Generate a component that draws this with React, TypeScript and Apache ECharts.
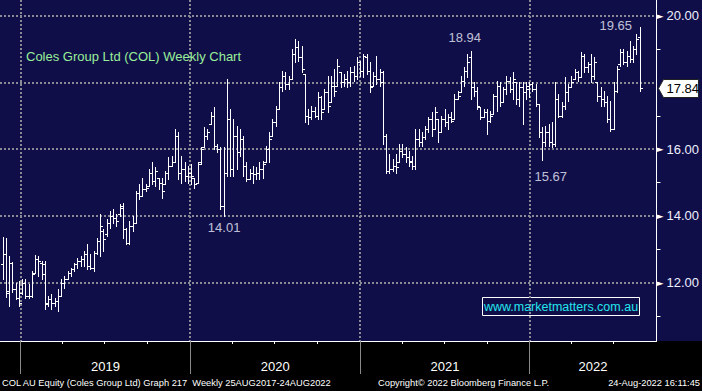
import React, { useEffect, useRef } from 'react';
import * as echarts from 'echarts';

const DAY = 86400000;
const firstWeekEnding = Date.UTC(2018, 10, 23);
const axisStart = Date.UTC(2018, 10, 17, 12);
const axisEnd = Date.UTC(2022, 9, 1);
const tickYears = [2019, 2020, 2021, 2022];
const priceLabelValues = [12, 14, 16, 20];
const priceGridValues = [12, 14, 16, 18, 20];
const priceMinorValues = [11, 13, 15, 17, 19];
const priceMin = 10.25;
const priceMax = 20.47;

const titleText = 'Coles Group Ltd (COL) Weekly Chart';
const watermarkText = 'www.marketmatters.com.au';
const footerLeft = 'COL AU Equity (Coles Group Ltd) Graph 217  Weekly 25AUG2017-24AUG2022';
const footerMid = 'Copyright\u00A9 2022 Bloomberg Finance L.P.';
const footerRight = '24-Aug-2022 16:11:45';

const opens = [
  12.55, 12.85, 11.70, 12.60, 11.80, 11.55, 11.70, 12.00, 11.60, 11.60,
  12.30, 12.70, 12.60, 12.55, 11.35, 11.50, 11.40, 11.45, 11.60, 12.00,
  12.10, 12.30, 12.40, 12.55, 12.65, 12.70, 12.85, 12.50, 12.45, 12.90,
  13.25, 13.55, 13.45, 13.80, 14.00, 13.95, 14.05, 14.30, 13.60, 13.20,
  13.70, 13.80, 14.70, 14.60, 14.80, 14.90, 15.30, 15.05, 15.15, 15.00,
  14.95, 15.30, 15.50, 15.60, 16.40, 15.30, 15.40, 15.20, 15.30, 15.15,
  15.00, 15.60, 16.05, 16.40, 16.75, 17.00, 16.10, 16.00, 14.30, 15.30,
  16.90, 15.40, 16.40, 15.90, 16.30, 15.50, 15.10, 15.30, 15.25, 15.30,
  15.40, 15.60, 16.00, 16.40, 16.80, 17.20, 17.85, 18.20, 17.95, 18.10,
  18.85, 19.05, 18.75, 18.25, 17.00, 16.95, 17.15, 17.00, 17.55, 17.20,
  17.70, 17.40, 17.90, 17.90, 18.30, 18.00, 18.10, 18.00, 18.30, 18.20,
  18.60, 18.35, 18.75, 18.35, 17.90, 18.20, 18.10, 18.00, 16.40, 15.35,
  15.40, 15.50, 15.60, 15.95, 15.85, 15.75, 15.60, 15.50, 16.30, 16.20,
  16.35, 16.60, 16.90, 16.60, 16.90, 16.50, 16.90, 16.80, 16.95, 16.90,
  17.50, 17.70, 18.05, 18.35, 18.75, 17.85, 17.75, 17.25, 16.95, 17.10,
  16.85, 17.05, 17.60, 17.90, 17.40, 17.80, 18.05, 17.80, 18.00, 17.50,
  17.85, 17.70, 17.80, 17.95, 17.80, 17.35, 16.50, 16.20, 16.50, 16.20,
  16.15, 17.50, 17.00, 17.30, 17.70, 17.85, 18.10, 18.30, 18.15, 18.80,
  18.45, 18.55, 18.20, 18.00, 17.60, 17.50, 17.40, 16.90, 16.60, 17.75,
  18.55, 18.90, 18.60, 18.80, 18.70, 19.00, 19.35,
];
const highs = [
  13.37, 13.34, 12.80, 12.62, 12.00, 12.05, 12.10, 12.10, 11.95, 12.35,
  12.83, 12.80, 12.65, 12.65, 11.60, 11.65, 11.55, 11.80, 12.10, 12.20,
  12.35, 12.45, 12.60, 12.75, 12.80, 12.95, 13.15, 12.85, 12.95, 13.35,
  14.05, 13.60, 13.90, 14.15, 14.20, 14.05, 14.35, 14.40, 13.65, 13.85,
  14.00, 14.75, 14.95, 15.15, 14.95, 15.40, 15.60, 15.45, 15.15, 15.15,
  15.35, 15.75, 15.80, 16.60, 16.50, 15.80, 15.60, 15.50, 15.55, 15.15,
  15.60, 16.05, 16.65, 16.60, 17.10, 17.25, 16.15, 16.05, 16.05, 18.10,
  17.20, 16.90, 16.70, 16.60, 16.40, 15.60, 15.40, 15.50, 15.45, 15.60,
  15.65, 16.10, 16.50, 16.90, 17.30, 18.00, 18.35, 18.30, 18.20, 19.00,
  19.30, 19.25, 19.10, 18.25, 17.20, 17.30, 17.25, 17.70, 17.60, 17.80,
  18.20, 18.20, 18.40, 18.70, 18.30, 18.25, 18.35, 18.45, 18.50, 18.75,
  18.65, 18.85, 18.85, 18.60, 18.30, 18.80, 18.40, 18.35, 16.45, 15.85,
  15.70, 15.85, 16.15, 16.15, 16.05, 15.95, 15.80, 16.60, 16.60, 16.50,
  16.70, 16.95, 17.10, 17.25, 16.90, 17.00, 17.20, 17.05, 17.10, 17.65,
  17.75, 18.20, 18.45, 18.85, 18.94, 18.00, 17.85, 17.25, 17.20, 17.20,
  17.15, 17.65, 18.05, 18.00, 17.85, 18.20, 18.15, 18.30, 18.00, 18.00,
  18.00, 18.00, 18.00, 18.00, 17.95, 17.35, 16.65, 16.70, 16.75, 16.80,
  18.00, 17.65, 17.40, 18.15, 17.95, 18.20, 18.40, 18.35, 18.90, 18.85,
  18.60, 18.85, 18.75, 18.00, 17.85, 17.75, 17.60, 17.45, 18.00, 18.50,
  19.00, 19.00, 18.95, 19.25, 19.10, 19.45, 19.65,
];
const lows = [
  12.10, 11.57, 11.30, 11.72, 11.50, 11.30, 11.65, 11.55, 11.55, 11.57,
  12.30, 12.20, 12.10, 11.20, 11.30, 11.20, 11.30, 11.15, 11.60, 11.85,
  12.10, 12.20, 12.35, 12.45, 12.50, 12.50, 12.40, 12.40, 12.35, 12.85,
  12.80, 12.95, 13.40, 13.65, 13.80, 13.70, 14.00, 13.35, 13.15, 13.15,
  13.55, 13.80, 14.50, 14.60, 14.75, 14.90, 14.95, 14.90, 14.80, 14.55,
  14.95, 15.10, 15.50, 15.60, 15.10, 15.00, 15.05, 15.00, 14.95, 14.85,
  15.00, 15.55, 16.05, 16.30, 16.75, 16.00, 15.90, 14.20, 14.01, 15.20,
  15.20, 15.20, 15.40, 15.80, 15.20, 15.05, 15.10, 15.00, 15.10, 15.10,
  15.15, 15.60, 15.60, 16.40, 16.70, 17.20, 17.75, 17.80, 17.80, 18.10,
  18.60, 18.65, 18.30, 16.80, 16.75, 16.90, 16.95, 16.90, 16.90, 17.20,
  17.10, 17.40, 17.60, 17.90, 17.85, 17.90, 17.85, 17.90, 18.05, 18.10,
  18.20, 18.15, 18.25, 17.70, 17.90, 17.95, 17.90, 16.15, 15.30, 15.30,
  15.35, 15.30, 15.60, 15.75, 15.60, 15.50, 15.40, 15.40, 16.10, 16.10,
  16.30, 16.50, 16.40, 16.60, 16.20, 16.50, 16.70, 16.60, 16.80, 16.90,
  17.50, 17.70, 17.90, 18.15, 17.50, 17.60, 17.20, 16.90, 16.95, 16.45,
  16.80, 17.05, 17.15, 17.30, 17.40, 17.65, 17.70, 17.50, 17.35, 17.30,
  16.75, 17.50, 17.55, 17.75, 17.30, 16.35, 15.67, 16.10, 16.10, 16.05,
  16.10, 16.95, 16.95, 17.20, 17.45, 17.85, 18.10, 18.05, 18.15, 18.30,
  18.30, 18.00, 18.10, 17.45, 17.30, 17.30, 16.80, 16.55, 16.60, 17.70,
  18.50, 18.55, 18.50, 18.60, 18.60, 18.85, 17.75,
];
const closes = [
  12.85, 11.75, 12.60, 11.80, 11.55, 11.40, 12.00, 11.60, 11.60, 12.25,
  12.70, 12.65, 12.25, 11.40, 11.50, 11.40, 11.45, 11.60, 12.00, 12.10,
  12.30, 12.40, 12.55, 12.65, 12.70, 12.85, 12.50, 12.45, 12.90, 13.25,
  13.70, 13.30, 13.80, 14.00, 13.95, 13.85, 14.25, 13.60, 13.20, 13.70,
  13.80, 14.70, 14.60, 14.80, 14.85, 15.30, 15.05, 15.35, 15.00, 14.75,
  15.30, 15.50, 15.60, 16.40, 15.30, 15.40, 15.20, 15.30, 15.20, 14.95,
  15.55, 16.00, 16.40, 16.50, 17.00, 16.10, 16.00, 14.30, 15.30, 16.90,
  15.40, 16.40, 15.90, 16.30, 15.50, 15.10, 15.30, 15.25, 15.30, 15.40,
  15.55, 16.00, 16.30, 16.80, 17.20, 17.85, 18.20, 17.95, 18.10, 18.85,
  19.05, 18.75, 18.40, 17.00, 16.95, 17.15, 17.00, 17.55, 17.10, 17.70,
  17.30, 17.90, 17.75, 18.50, 18.00, 18.10, 18.00, 18.30, 18.20, 18.60,
  18.35, 18.80, 18.35, 17.85, 18.20, 18.10, 18.30, 16.40, 15.35, 15.40,
  15.50, 15.45, 15.95, 15.85, 15.75, 15.65, 15.50, 16.30, 16.20, 16.35,
  16.60, 16.90, 16.60, 17.10, 16.50, 16.90, 16.80, 16.95, 16.85, 17.50,
  17.60, 18.05, 18.35, 18.60, 17.85, 17.75, 17.30, 16.95, 17.10, 16.85,
  17.00, 17.60, 17.90, 17.40, 17.80, 18.05, 17.80, 18.10, 17.50, 17.85,
  17.70, 17.90, 17.95, 17.80, 17.35, 16.50, 16.20, 16.50, 16.20, 16.15,
  17.50, 17.00, 17.30, 17.70, 17.85, 18.00, 18.30, 18.15, 18.80, 18.45,
  18.55, 18.20, 18.60, 17.60, 17.50, 17.40, 16.90, 16.60, 17.75, 18.40,
  18.90, 18.60, 18.80, 18.70, 19.00, 19.30, 17.84,
];

const annotationBars = [68, 144, 166, 196];
const annotationSides = ['low', 'high', 'low', 'high'];
const annotationOffsets = [[0.5, 11.5], [-6, -13.5], [8.5, 16.5], [-24, -2]];

const weekDates = opens.map((_, i) => firstWeekEnding + i * 7 * DAY);

export default function App() {
  const ref = useRef<HTMLDivElement>(null);

  useEffect(() => {
    if (!ref.current) return;
    const chart = echarts.init(ref.current, null, { renderer: 'svg' });

    const yearStarts = tickYears.map((y) => Date.UTC(y, 0, 1));
    const quarterTicks: number[] = [];
    tickYears.forEach((y) => {
      [3, 6, 9].forEach((m) => {
        const t = Date.UTC(y, m, 1);
        if (t < axisEnd) quarterTicks.push(t);
      });
    });
    const yearMids = tickYears.map((y) => {
      const a = Math.max(Date.UTC(y, 0, 1), axisStart);
      const b = Math.min(Date.UTC(y + 1, 0, 1), axisEnd);
      return (a + b) / 2;
    });

    const ohlc = weekDates.map((d, i) => [d, opens[i], highs[i], lows[i], closes[i]]);
    const annData = annotationBars.map((b, k) => ({
      value: [weekDates[b], annotationSides[k] === 'low' ? lows[b] : highs[b]],
      label: { offset: annotationOffsets[k] },
    }));
    const lastIdx = closes.length - 1;

    const textColor = '#eef0ff';
    const font = 'Liberation Sans';

    const option: any = {
      animation: false,
      useUTC: true,
      backgroundColor: '#100e48',
      grid: { left: 0, top: 0, right: 45, bottom: 50, containLabel: false },
      xAxis: [
        {
          type: 'value',
          min: axisStart,
          max: axisEnd,
          position: 'bottom',
          axisLine: { show: true, lineStyle: { color: '#ffffff', width: 1 } },
          axisTick: { show: true, customValues: yearStarts, length: 33, lineStyle: { color: '#8a8a8a', width: 1 } },
          axisLabel: { show: false },
          splitLine: { show: true, lineStyle: { color: '#8a8a96', width: 2, type: [2, 2] } },
        },
        {
          type: 'value',
          min: axisStart,
          max: axisEnd,
          position: 'bottom',
          axisLine: { show: false },
          axisTick: { show: true, customValues: quarterTicks, length: 3, lineStyle: { color: '#ffffff', width: 1 } },
          axisLabel: { show: false },
          splitLine: { show: false },
        },
        {
          type: 'value',
          min: axisStart,
          max: axisEnd,
          position: 'bottom',
          axisLine: { show: false },
          axisTick: { show: false },
          splitLine: { show: false },
          axisLabel: {
            show: true,
            customValues: yearMids,
            margin: 19,
            color: '#ffffff',
            fontFamily: font,
            fontSize: 13,
            formatter: (v: number) => {
              const i = yearMids.findIndex((m) => Math.abs(m - v) < DAY);
              return i >= 0 ? String(tickYears[i]) : '';
            },
          },
        },
      ],
      yAxis: [
        {
          type: 'value',
          min: priceMin,
          max: priceMax,
          position: 'right',
          axisLine: { show: true, lineStyle: { color: '#ffffff', width: 1 } },
          axisTick: { show: false, customValues: priceGridValues },
          splitLine: { show: true, lineStyle: { color: '#8a8a96', width: 2, type: [2, 2] } },
          axisLabel: {
            show: true,
            customValues: priceLabelValues,
            margin: 0,
            formatter: (v: number) => `{a|\u25BA}{b|${Number(v).toFixed(2)}}`,
            rich: {
              a: { fontFamily: 'DejaVu Sans', fontSize: 9, color: '#ffffff', width: 10 },
              b: { fontFamily: font, fontSize: 13, color: textColor },
            },
          },
        },
        {
          type: 'value',
          min: priceMin,
          max: priceMax,
          position: 'right',
          axisLine: { show: false },
          axisTick: { show: true, customValues: priceMinorValues, length: 4, lineStyle: { color: '#ffffff', width: 1 } },
          axisLabel: { show: false },
          splitLine: { show: false },
        },
      ],
      series: [
        {
          type: 'custom',
          xAxisIndex: 0,
          yAxisIndex: 0,
          data: ohlc,
          encode: { x: 0, y: [1, 2, 3, 4] },
          renderItem: (params: any, api: any) => {
            const x = api.value(0);
            const ph = api.coord([x, api.value(2)]);
            const pl = api.coord([x, api.value(3)]);
            const po = api.coord([x, api.value(1)]);
            const pc = api.coord([x, api.value(4)]);
            const sx = Math.round(ph[0]) + 0.5;
            const yo = Math.round(po[1]) + 0.5;
            const yc = Math.round(pc[1]) + 0.5;
            const st = { stroke: '#ffffff', lineWidth: 1 };
            return {
              type: 'group',
              children: [
                { type: 'line', shape: { x1: sx, y1: Math.round(ph[1]), x2: sx, y2: Math.round(pl[1]) + 1 }, style: st },
                { type: 'line', shape: { x1: sx - 2.5, y1: yo, x2: sx, y2: yo }, style: st },
                { type: 'line', shape: { x1: sx, y1: yc, x2: sx + 2.5, y2: yc }, style: st },
              ],
            };
          },
          z: 3,
        },
        {
          type: 'scatter',
          xAxisIndex: 0,
          yAxisIndex: 0,
          symbolSize: 1,
          itemStyle: { color: 'rgba(0,0,0,0)' },
          data: annData,
          label: {
            show: true,
            position: 'inside',
            color: textColor,
            fontFamily: font,
            fontSize: 13,
            formatter: (p: any) => Number(p.value[1]).toFixed(2),
          },
          z: 4,
        },
        {
          type: 'custom',
          xAxisIndex: 0,
          yAxisIndex: 0,
          clip: false,
          data: [[weekDates[lastIdx], closes[lastIdx]]],
          renderItem: (params: any, api: any) => {
            const pt = api.coord([api.value(0), api.value(1)]);
            const cs = params.coordSys;
            const x0 = cs.x + cs.width;
            const y = Math.round(pt[1]) + 0.5;
            return {
              type: 'group',
              children: [
                {
                  type: 'polygon',
                  shape: { points: [[x0 + 2, y], [x0 + 7, y - 9], [x0 + 42, y - 9], [x0 + 42, y + 9], [x0 + 7, y + 9]] },
                  style: { fill: '#ffffff', stroke: '#222222', lineWidth: 1 },
                },
                {
                  type: 'text',
                  x: x0 + 10,
                  y: y,
                  style: { text: Number(api.value(1)).toFixed(2), fill: '#000000', font: `13px "${font}"`, verticalAlign: 'middle', align: 'left' },
                },
              ],
            };
          },
          z: 5,
        },
      ],
      graphic: [
        { type: 'rect', left: 0, top: 341, z: -1, silent: true, shape: { width: 702, height: 50 }, style: { fill: '#000000' } },
        { type: 'text', left: 26, top: 50, z: 10, style: { text: titleText, fill: '#99ee99', font: `13px "${font}"` } },
        {
          type: 'group',
          left: 480,
          top: 295,
          z: 10,
          children: [
            { type: 'rect', shape: { x: 0, y: 0, width: 157, height: 18 }, style: { fill: 'none', stroke: '#ffffff', lineWidth: 1 } },
            { type: 'text', x: 78.5, y: 9.5, style: { text: watermarkText, fill: '#22e6ee', font: `12.5px "${font}"`, align: 'center', verticalAlign: 'middle' } },
          ],
        },
        { type: 'text', left: 2, top: 378, z: 10, style: { text: footerLeft, fill: '#ffffff', font: `9.3px "${font}"` } },
        { type: 'text', left: 378, top: 378, z: 10, style: { text: footerMid, fill: '#ffffff', font: `9.3px "${font}"` } },
        { type: 'text', right: 2, top: 378, z: 10, style: { text: footerRight, fill: '#ffffff', font: `9.3px "${font}"` } },
      ],
    };

    chart.setOption(option);
    return () => chart.dispose();
  }, []);

  return <div ref={ref} style={{ position: 'fixed', left: 0, top: 0, width: 702, height: 391 }} />;
}
